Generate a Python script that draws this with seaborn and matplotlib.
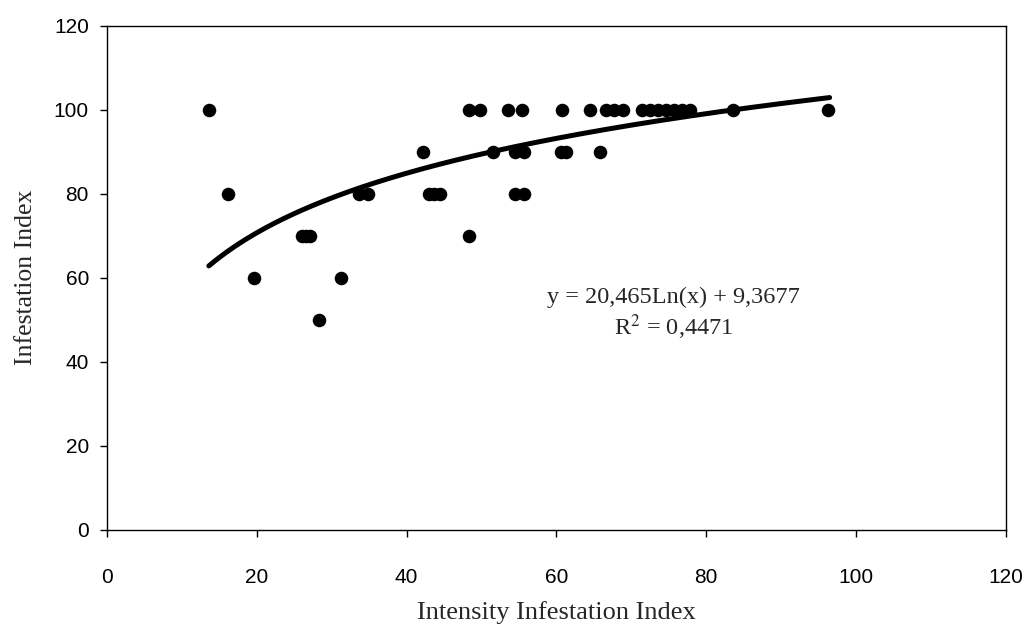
import numpy as np
import pandas as pd
import seaborn as sns
import matplotlib.pyplot as plt

# values
intensity = [13.6, 16.1, 19.6, 26.0, 26.6, 27.1, 28.3, 31.2, 33.6, 34.9,
             42.2, 43.0, 43.7, 44.5, 48.3, 48.3, 49.8, 51.5, 53.6, 54.5,
             54.5, 55.4, 55.7, 55.7, 60.8, 60.6, 61.3, 64.5, 65.9, 66.6,
             67.7, 68.9, 71.4, 72.5, 73.6, 74.6, 75.7, 76.8, 77.8, 83.6,
             96.3]
infestation = [100, 80, 60, 70, 70, 70, 50, 60, 80, 80,
               90, 80, 80, 80, 70, 100, 100, 90, 100, 90,
               80, 100, 90, 80, 100, 90, 90, 100, 90, 100,
               100, 100, 100, 100, 100, 100, 100, 100, 100, 100,
               100]

# logarithmic trend line as printed on the chart
coef_a = 20.465
coef_b = 9.3677
r_squared = 0.4471

df = pd.DataFrame({"x": intensity, "y": infestation})
trend_x = np.linspace(min(intensity), 96.5, 200)
trend = pd.DataFrame({"x": trend_x, "y": coef_a * np.log(trend_x) + coef_b})

sns.set_style("ticks")
plt.rcParams["font.family"] = ["Liberation Sans", "DejaVu Sans"]

fig = plt.figure(figsize=(10.23, 6.27), dpi=100)
ax = fig.add_axes([0.1046, 0.1555, 0.8784, 0.8035])

sns.scatterplot(data=df, x="x", y="y", ax=ax, color="black", s=95,
                edgecolor="black", linewidth=0, zorder=3)
sns.lineplot(data=trend, x="x", y="y", ax=ax, color="black", linewidth=3.6,
             zorder=2)

ax.set_xlim(0, 120)
ax.set_ylim(0, 120)
ax.set_xticks(range(0, 121, 20))
ax.set_yticks(range(0, 121, 20))
ax.tick_params(axis="both", labelsize=15, length=5, width=1,
               color="black", labelcolor="black")
ax.tick_params(axis="x", pad=23)
ax.tick_params(axis="y", pad=8)
ax.tick_params(top=False, right=False)
for sp in ax.spines.values():
    sp.set_visible(True)
    sp.set_color("black")
    sp.set_linewidth(1)

serif = ["Liberation Serif", "DejaVu Serif"]
ax.set_xlabel("Intensity Infestation Index", family=serif, fontsize=19,
              labelpad=10)
ax.set_ylabel("Infestation Index", family=serif, fontsize=18.5, labelpad=12)

eq = f"y = {coef_a:.3f}Ln(x) + {coef_b:.4f}".replace(".", ",")
r2 = f"R$^2$ = {r_squared:.4f}".replace(".", ",")
ax.text(75.7, 55.4, eq, family=serif, fontsize=17.5, ha="center", va="center")
ax.text(75.7, 48.3, r2, family=serif, fontsize=17.5, ha="center", va="center",
        math_fontfamily="stix")

fig.savefig("out.png", dpi=100)
